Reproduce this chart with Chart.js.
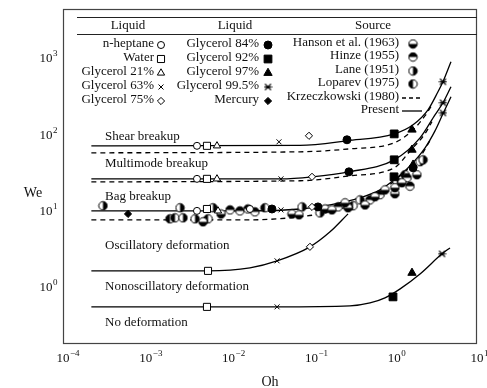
<!DOCTYPE html>
<html>
<head>
<meta charset="utf-8">
<script src="https://cdn.jsdelivr.net/npm/chart.js@4.4.1/dist/chart.umd.min.js"></script>
<style>
  html, body { margin: 0; padding: 0; background: #fff; }
</style>
</head>
<body>
<canvas id="chart" width="487" height="388"></canvas>
<script>
const FONT = '"Liberation Serif", "DejaVu Serif", serif';

// axes (log-log)
const xMin = 1e-4, xMax = 10;
const yMin = 0.184, yMax = 4500;
const xTickExps = [-4, -3, -2, -1, 0, 1];
const yTickExps = [0, 1, 2, 3];

// regime boundaries: Oh values and We values
const shearOh = [2.2e-4, 0.0728, 0.269, 1.0, 1.69, 2.56, 3.38, 3.88, 4.85];
const shearWe = [72.6, 73.5, 84.5, 104, 137, 215, 371, 501, 916];
const shearDashOh = [2.2e-4, 0.0728, 0.292, 1.0, 1.64, 2.36, 2.86];
const shearDashWe = [58.8, 60.6, 66.3, 79.5, 114, 180, 250];
const multiOh = [2.2e-4, 0.0429, 0.1017, 0.284, 1.0, 2.05, 3.11, 3.88, 4.85];
const multiWe = [26.8, 26.8, 28.5, 33.1, 47.6, 92.4, 185, 266, 431];
const multiDashOh = [2.2e-4, 0.0728, 0.292, 1.0, 1.60, 2.36, 2.86];
const multiDashWe = [24.5, 25.3, 29.4, 37.4, 64.4, 105, 150];
const bagOh = [2.2e-4, 0.0181, 0.0728, 0.168, 0.386, 0.674, 1.0, 1.55, 2.36, 3.11, 3.88, 4.85];
const bagWe = [10.2, 10.2, 10.8, 12.2, 15.1, 19.2, 26.0, 39.7, 68.4, 114, 191, 319];
const bagDashOh = [2.2e-4, 0.0181, 0.0552, 0.127, 0.292, 0.674, 1.18, 2.05, 2.71];
const bagDashWe = [7.78, 7.78, 8.27, 9.33, 11.9, 18.1, 29.4, 52, 85];
const oscOh = [2.2e-4, 5.63e-3, 0.0181, 0.0385, 0.0962, 0.168, 0.277];
const oscWe = [1.67, 1.67, 1.83, 2.26, 3.45, 5.42, 9.33];
const deformOh = [2.2e-4, 0.0385, 0.292, 0.51, 0.774, 1.18, 2.05, 3.78, 4.72];
const deformWe = [0.564, 0.564, 0.581, 0.635, 0.74, 0.97, 1.52, 2.79, 3.34];

// measurements [Oh, We]
const nHeptane = [[4.15e-3, 72.6], [4.15e-3, 26.8], [4.15e-3, 10.2], [0.0181, 10.8]];
const water = [[5.48e-3, 72.6], [5.48e-3, 26.8], [5.48e-3, 10.8], [5.64e-3, 1.67], [5.48e-3, 0.564]];
const glyc21 = [[7.24e-3, 72.6], [7.24e-3, 26.8], [7.45e-3, 10.2]];
const glyc63 = [[0.0406, 81.9], [0.0429, 26.8], [0.0429, 10.5], [0.0385, 2.26], [0.0385, 0.564]];
const glyc75 = [[0.0935, 98.2], [0.1017, 28.5], [0.1017, 11.5], [0.096, 3.45]];
const glyc84 = [[0.269, 87.1], [0.284, 33.1], [0.0334, 10.8], [0.12, 11.5], [1.69, 37.4]];
const glyc92 = [[1.0, 104], [1.0, 47.6], [0.995, 28.5], [0.967, 0.762]];
const glyc97 = [[1.64, 118], [1.64, 64.4], [1.69, 41], [1.64, 1.57]];
const glyc995 = [[3.88, 501], [3.88, 266], [3.88, 196], [3.78, 2.79]];
const mercury = [[6.1e-4, 9.3]];
const hanson = [[4.91e-3, 7.33], [8.1e-3, 9.3], [0.0583, 9.3], [0.0708, 9.06], [0.146, 10.8], [0.177, 10.5],
  [0.277, 11.2], [0.255, 13.0], [0.444, 12.2], [0.586, 15.6], [0.774, 19.2], [1.02, 17.1], [1.02, 20.5],
  [1.24, 23.8], [1.88, 30.3]];
const hinze = [[0.0104, 10.5], [0.0137, 10.2], [0.0171, 10.8], [0.0208, 9.9], [0.21, 11.5], [0.51, 14.2],
  [0.674, 16.6], [1.43, 27.7], [1.55, 21.5]];
const lane = [[3.04e-4, 11.9], [2.59e-3, 11.2], [2.81e-3, 8.27], [3.93e-3, 8.02], [6.48e-3, 11.2], [0.077, 11.5],
  [0.127, 9.6], [0.386, 14.2], [1.08, 24.5], [2.05, 44.9], [2.23, 47.6]];
const loparev = [[1.96e-3, 8.02], [2.25e-3, 8.27], [5.64e-3, 8.02], [0.318, 11.9], [1.35, 30.3], [0.0275, 11.2]];

const regionLabels = ["Shear breakup", "Multimode breakup", "Bag breakup",
  "Oscillatory deformation", "Nonoscillatory deformation", "No deformation"];
const regionY = [137, 164, 197, 246, 287, 323];

// marker sprites
function halfCircle(which) {
  const c = document.createElement("canvas");
  c.width = c.height = 11;
  const g = c.getContext("2d");
  const r = 4.2;
  g.fillStyle = "#fff";
  g.beginPath(); g.arc(5.5, 5.5, r, 0, 2 * Math.PI); g.fill();
  const start = { bottom: 0, top: Math.PI, right: -Math.PI / 2, left: Math.PI / 2 }[which];
  g.fillStyle = "#000";
  g.beginPath(); g.arc(5.5, 5.5, r, start, start + Math.PI); g.closePath(); g.fill();
  g.strokeStyle = "#000"; g.lineWidth = 1;
  g.beginPath(); g.arc(5.5, 5.5, r, 0, 2 * Math.PI); g.stroke();
  return c;
}
function asterisk() {
  const c = document.createElement("canvas");
  c.width = c.height = 9;
  const g = c.getContext("2d");
  g.strokeStyle = "#000"; g.lineWidth = 1.2;
  g.beginPath();
  g.moveTo(1.5, 1.5); g.lineTo(7.5, 7.5);
  g.moveTo(7.5, 1.5); g.lineTo(1.5, 7.5);
  g.moveTo(0.5, 4.5); g.lineTo(8.5, 4.5);
  g.stroke();
  return c;
}

const styles = {
  nHeptane: { pointStyle: "circle", radius: 3.5, fill: "#fff" },
  water: { pointStyle: "rect", radius: 5, fill: "#fff" },
  glyc21: { pointStyle: "triangle", radius: 4.2, fill: "#fff" },
  glyc63: { pointStyle: "crossRot", radius: 3.5, fill: "#fff" },
  glyc75: { pointStyle: "rectRot", radius: 3.6, fill: "#fff" },
  glyc84: { pointStyle: "circle", radius: 4, fill: "#000" },
  glyc92: { pointStyle: "rect", radius: 5.5, fill: "#000" },
  glyc97: { pointStyle: "triangle", radius: 4.8, fill: "#000" },
  glyc995: { pointStyle: asterisk(), radius: 4, fill: "#000" },
  mercury: { pointStyle: "rectRot", radius: 3.6, fill: "#000" },
  hanson: { pointStyle: halfCircle("bottom"), radius: 5, fill: "#000" },
  hinze: { pointStyle: halfCircle("top"), radius: 5, fill: "#000" },
  lane: { pointStyle: halfCircle("right"), radius: 5, fill: "#000" },
  loparev: { pointStyle: halfCircle("left"), radius: 5, fill: "#000" },
};

const toXY = (arr) => arr.map(([x, y]) => ({ x, y }));
const zip = (xs, ys) => xs.map((x, i) => ({ x, y: ys[i] }));

const markerSets = { nHeptane, water, glyc21, glyc63, glyc75, glyc84, glyc92, glyc97, glyc995, mercury,
  hanson, hinze, lane, loparev };

const datasets = [];
Object.keys(markerSets).forEach((k) => {
  const s = styles[k];
  datasets.push({
    label: k,
    data: toXY(markerSets[k]),
    showLine: false,
    pointStyle: s.pointStyle,
    pointRadius: s.radius,
    pointBackgroundColor: s.fill,
    pointBorderColor: "#000",
    pointBorderWidth: 1,
    order: 0,
  });
});

const curve = (label, xs, ys, dashed) => ({
  label,
  data: zip(xs, ys),
  showLine: true,
  borderColor: "#000",
  borderWidth: 1.3,
  borderDash: dashed ? [5, 4] : [],
  pointRadius: 0,
  cubicInterpolationMode: "monotone",
  fill: false,
  order: 2,
});
datasets.push(curve("shear", shearOh, shearWe, false));
datasets.push(curve("shearK", shearDashOh, shearDashWe, true));
datasets.push(curve("multi", multiOh, multiWe, false));
datasets.push(curve("multiK", multiDashOh, multiDashWe, true));
datasets.push(curve("bag", bagOh, bagWe, false));
datasets.push(curve("bagK", bagDashOh, bagDashWe, true));
datasets.push(curve("osc", oscOh, oscWe, false));
datasets.push(curve("deform", deformOh, deformWe, false));

function powerLabel(ctx, exp, x, y, align) {
  const base = "10";
  const e = String(exp).replace("-", "\u2212");
  ctx.font = "13px " + FONT;
  const bw = ctx.measureText(base).width;
  ctx.font = "9px " + FONT;
  const ew = ctx.measureText(e).width;
  let left = x;
  if (align === "center") left = x - bw / 2;
  if (align === "right") left = x - bw - ew;
  ctx.textAlign = "left";
  ctx.textBaseline = "middle";
  ctx.font = "13px " + FONT;
  ctx.fillText(base, left, y);
  ctx.font = "9px " + FONT;
  ctx.fillText(e, left + bw + 0.5, y - 5);
}

function legendMarker(ctx, key, x, y) {
  const s = styles[key];
  ctx.save();
  ctx.fillStyle = s.fill;
  ctx.strokeStyle = "#000";
  ctx.lineWidth = 1;
  Chart.helpers.drawPoint(ctx, { pointStyle: s.pointStyle, radius: s.radius, borderWidth: 1, rotation: 0 }, x, y);
  ctx.restore();
}

const decorations = {
  id: "decorations",
  afterDatasetsDraw(chart) {
    const { ctx, chartArea: a, scales } = chart;
    ctx.save();
    // frame
    ctx.strokeStyle = "#444";
    ctx.lineWidth = 1.2;
    ctx.strokeRect(a.left + 0.5, a.top + 0.5, a.right - a.left - 1, a.bottom - a.top - 1);

    ctx.fillStyle = "#111";
    // tick labels
    xTickExps.forEach((e) => powerLabel(ctx, e, scales.x.getPixelForValue(Math.pow(10, e)), a.bottom + 15, "center"));
    yTickExps.forEach((e) => powerLabel(ctx, e, 57, scales.y.getPixelForValue(Math.pow(10, e)), "right"));

    // axis titles
    ctx.font = "14px " + FONT;
    ctx.textAlign = "center";
    ctx.textBaseline = "middle";
    ctx.fillText("Oh", (a.left + a.right) / 2, a.bottom + 38);
    ctx.fillText("We", 33, 193);

    // regime labels
    ctx.font = "13px " + FONT;
    ctx.textAlign = "left";
    regionLabels.forEach((t, i) => ctx.fillText(t, a.left + 42, regionY[i]));

    // legend table
    ctx.strokeStyle = "#222";
    ctx.lineWidth = 1;
    [17, 34].forEach((yy) => {
      ctx.beginPath(); ctx.moveTo(77, yy + 0.5); ctx.lineTo(a.right, yy + 0.5); ctx.stroke();
    });
    ctx.textAlign = "center";
    ctx.fillText("Liquid", 128, 26);
    ctx.fillText("Liquid", 235, 26);
    ctx.fillText("Source", 373, 26);

    const rowsL = [44, 58, 72, 86, 100];
    const col1 = [["n-heptane", "nHeptane"], ["Water", "water"], ["Glycerol 21%", "glyc21"],
      ["Glycerol 63%", "glyc63"], ["Glycerol 75%", "glyc75"]];
    const col2 = [["Glycerol 84%", "glyc84"], ["Glycerol 92%", "glyc92"], ["Glycerol 97%", "glyc97"],
      ["Glycerol 99.5%", "glyc995"], ["Mercury", "mercury"]];
    ctx.textAlign = "right";
    col1.forEach(([t, k], i) => {
      ctx.fillStyle = "#111";
      ctx.fillText(t, 154, rowsL[i]);
      legendMarker(ctx, k, 161, rowsL[i] + 1);
    });
    col2.forEach(([t, k], i) => {
      ctx.fillStyle = "#111";
      ctx.textAlign = "right";
      ctx.fillText(t, 259, rowsL[i]);
      legendMarker(ctx, k, 268, rowsL[i] + 1);
    });
    const rowsS = [43, 56, 70, 83, 97, 110];
    const col3 = [["Hanson et al. (1963)", "hanson"], ["Hinze (1955)", "hinze"], ["Lane (1951)", "lane"],
      ["Loparev (1975)", "loparev"]];
    col3.forEach(([t, k], i) => {
      ctx.fillStyle = "#111";
      ctx.textAlign = "right";
      ctx.fillText(t, 399, rowsS[i]);
      legendMarker(ctx, k, 413, rowsS[i] + 1);
    });
    ctx.fillStyle = "#111";
    ctx.textAlign = "right";
    ctx.fillText("Krzeczkowski (1980)", 399, rowsS[4]);
    ctx.fillText("Present", 399, rowsS[5]);
    ctx.strokeStyle = "#000";
    ctx.lineWidth = 1.3;
    ctx.setLineDash([4, 3]);
    ctx.beginPath(); ctx.moveTo(402, rowsS[4] + 1); ctx.lineTo(422, rowsS[4] + 1); ctx.stroke();
    ctx.setLineDash([]);
    ctx.beginPath(); ctx.moveTo(402, rowsS[5] + 1); ctx.lineTo(422, rowsS[5] + 1); ctx.stroke();
    ctx.restore();
  },
};

new Chart(document.getElementById("chart"), {
  type: "scatter",
  data: { datasets },
  options: {
    responsive: false,
    animation: false,
    layout: { padding: { top: 9, right: 10, left: 0, bottom: 0 } },
    plugins: { legend: { display: false }, tooltip: { enabled: false } },
    scales: {
      x: {
        type: "logarithmic", min: xMin, max: xMax,
        ticks: { display: false }, grid: { display: false }, border: { display: false },
        afterFit: (s) => { s.height = 44; },
      },
      y: {
        type: "logarithmic", min: yMin, max: yMax,
        ticks: { display: false }, grid: { display: false }, border: { display: false },
        afterFit: (s) => { s.width = 63; },
      },
    },
  },
  plugins: [decorations],
});
</script>
</body>
</html>
